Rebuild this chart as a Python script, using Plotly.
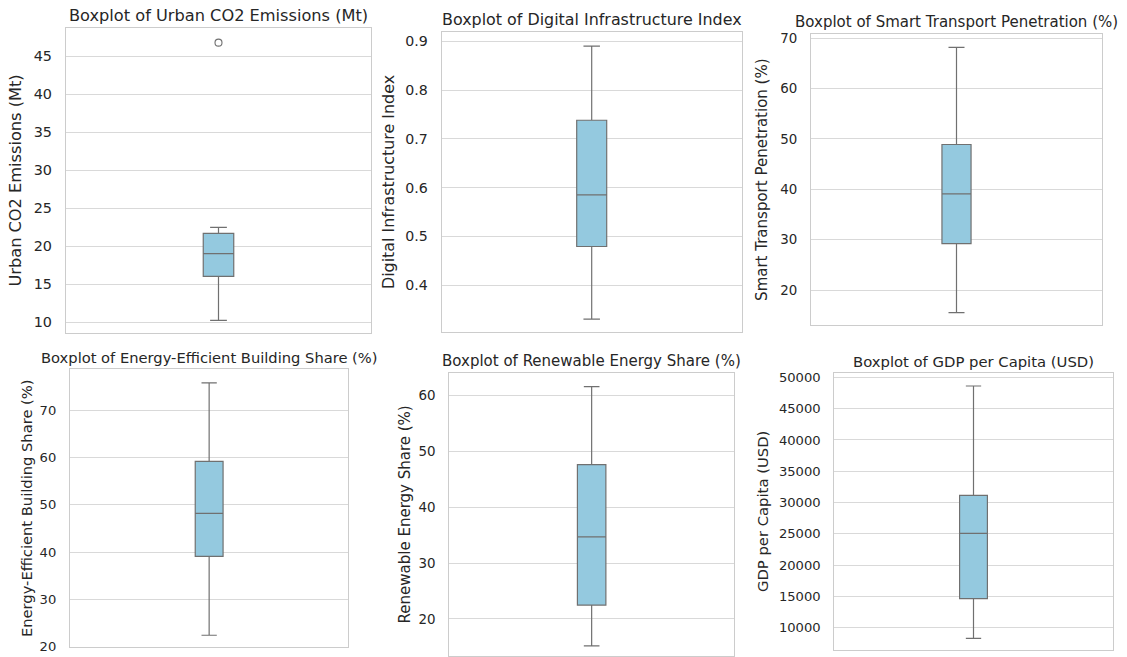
import plotly.graph_objects as go

W, H = 1127, 657

# ---- data ----
titles = ["Boxplot of Urban CO2 Emissions (Mt)",
          "Boxplot of Digital Infrastructure Index",
          "Boxplot of Smart Transport Penetration (%)",
          "Boxplot of Energy-Efficient Building Share (%)",
          "Boxplot of Renewable Energy Share (%)",
          "Boxplot of GDP per Capita (USD)"]
ylabels = ["Urban CO2 Emissions (Mt)",
           "Digital Infrastructure Index",
           "Smart Transport Penetration (%)",
           "Energy-Efficient Building Share (%)",
           "Renewable Energy Share (%)",
           "GDP per Capita (USD)"]
lower_whisker = [10.23, 0.330, 15.5, 22.4, 15.15, 8300]
q1_values     = [16.03, 0.479, 29.2, 39.1, 22.46, 14640]
median_values = [19.01, 0.585, 39.1, 48.2, 34.67, 25080]
q3_values     = [21.69, 0.738, 48.9, 59.2, 47.6, 31150]
upper_whisker = [22.48, 0.890, 68.2, 75.8, 61.56, 48620]
outliers      = [[46.8], [], [], [], [], []]

# ---- layout (pixel frames of each panel) ----
frames = [(66, 371, 28, 333), (441.7, 741.7, 32.3, 331.7), (811, 1102, 34.3, 325),
          (70, 348.3, 369.3, 647.3), (449.3, 734, 372.7, 656), (834.3, 1112.7, 372.7, 650)]
yranges = [(8.56, 48.73), (0.3042, 0.9185), (13.05, 70.79),
           (19.85, 78.67), (13.35, 64.07), (6442, 50745)]
dticks = [5, 0.1, 10, 10, 10, 5000]
tickformats = ["", ".1f", "", "", "", "d"]
label_sizes = [16.2, 15.9, 15.0, 14.7, 15.0, 14.8]
tick_sizes = [14.4, 14.2, 13.4, 13.1, 13.4, 13.1]
title_standoffs = [8, 6, 8, 3, 4, 6]

FILL = "#94C9DF"
LINE = "#707070"
TXT = "#262626"
GRID = "#d9d9d9"
FRAME = "#cccccc"
FONT = "DejaVu Sans"

fig = go.Figure()
annotations = []
for i in range(6):
    n = "" if i == 0 else str(i + 1)
    x0, x1, y0, y1 = frames[i]
    fig.add_trace(go.Box(
        x=[0], q1=[q1_values[i]], median=[median_values[i]], q3=[q3_values[i]],
        lowerfence=[lower_whisker[i]], upperfence=[upper_whisker[i]],
        width=0.1, whiskerwidth=0.55, fillcolor=FILL,
        line=dict(color=LINE, width=1.2), boxpoints=False,
        xaxis="x" + n, yaxis="y" + n, showlegend=False, hoverinfo="skip"))
    if outliers[i]:
        fig.add_trace(go.Scatter(
            x=[0] * len(outliers[i]), y=outliers[i], mode="markers",
            marker=dict(symbol="circle-open", size=7, color=LINE, line=dict(width=1.1)),
            xaxis="x" + n, yaxis="y" + n, showlegend=False, hoverinfo="skip"))
    fig.update_layout(**{
        "xaxis" + n: dict(domain=[x0 / W, x1 / W], range=[-0.5, 0.5], showgrid=False,
                          showticklabels=False, zeroline=False, showline=True, mirror=True,
                          linecolor=FRAME, linewidth=1.25, anchor="y" + n,
                          automargin=False, fixedrange=True),
        "yaxis" + n: dict(domain=[1 - y1 / H, 1 - y0 / H], range=list(yranges[i]),
                          dtick=dticks[i], tick0=0, tickformat=tickformats[i],
                          showgrid=True, gridcolor=GRID, gridwidth=1, zeroline=False,
                          showline=True, mirror=True, linecolor=FRAME, linewidth=1.25,
                          ticks="", ticklabelstandoff=10, anchor="x" + n, automargin=False,
                          tickfont=dict(family=FONT, size=tick_sizes[i], color=TXT),
                          title=dict(text=ylabels[i], standoff=title_standoffs[i],
                                     font=dict(family=FONT, size=label_sizes[i], color=TXT))),
    })
    annotations.append(dict(text=titles[i], xref="paper", yref="paper",
                            x=(x0 + x1) / 2 / W, y=1 - y0 / H, xanchor="center",
                            yanchor="bottom", yshift=1, showarrow=False,
                            font=dict(family=FONT, size=label_sizes[i], color=TXT)))

fig.update_layout(width=W, height=H, margin=dict(l=0, r=0, t=0, b=0),
                  paper_bgcolor="white", plot_bgcolor="white",
                  annotations=annotations, font=dict(family=FONT, color=TXT))
fig.write_html("out.html", config={"displayModeBar": False},
               post_script="document.body.style.margin='0px';document.body.style.overflow='hidden';")
